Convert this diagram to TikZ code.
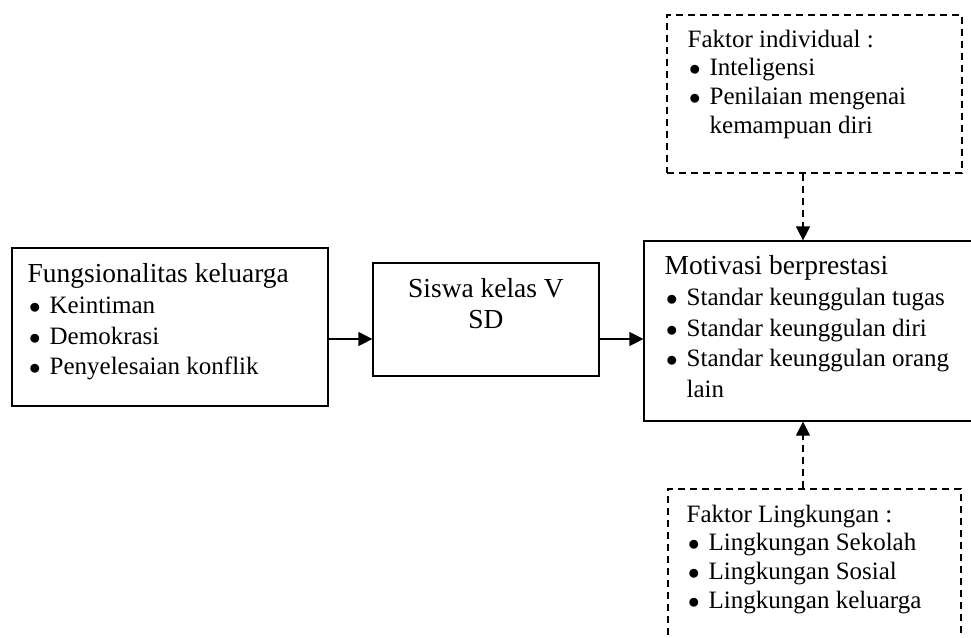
\documentclass[tikz,border=0pt]{standalone}
\usepackage{fontspec}
\setmainfont{Liberation Serif}
\usepackage{tikz}
\usetikzlibrary{arrows.meta}
\newcommand{\bul}{\makebox[16.5pt][l]{\hspace{1pt}$\bullet$}}
\newcommand{\ttl}[1]{{\fontsize{20.6pt}{23pt}\selectfont #1}}

\begin{document}
\begin{tikzpicture}[x=0.75pt,y=-0.75pt,
    box/.style={draw,line width=0.9pt,inner sep=0pt},
    dbox/.style={box,dash pattern=on 5.5pt off 3.5pt},
    txt/.style={inner sep=0pt,align=left,font=\fontsize{18.75pt}{23pt}\selectfont},
    dtxt/.style={txt,font=\fontsize{18.75pt}{21.5pt}\selectfont},
    arr/.style={line width=0.9pt,-{Triangle[length=10.5pt,width=10.5pt]}},
    darr/.style={arr,dash pattern=on 5.5pt off 3.5pt}]
            \useasboundingbox (0,0) rectangle (971,638);
            \clip (0,0) rectangle (971,638);
            \node (fam) at (170,327) [box, minimum width=237pt, minimum height=118.5pt] {};
            \node (siswa) at (486,319.5) [box, minimum width=169.5pt, minimum height=84.75pt] {};
            \node (motiv) at (822,331) [box, minimum width=267pt, minimum height=135pt] {};
            \node (indiv) at (814.5,94) [dbox, minimum width=221.25pt, minimum height=118.5pt] {};
            \node (ling) at (814.5,594.5) [dbox, minimum width=219.75pt, minimum height=158.25pt] {};
            \node (famtxt) at ([shift={(16,16)}]fam.north west) [txt, anchor=north west]
                {\ttl{Fungsionalitas keluarga}\\ \bul Keintiman\\ \bul Demokrasi\\ \bul Penyelesaian konflik};
            \node (siswatxt) at ([shift={(0,16)}]siswa.north) [txt, align=center, anchor=north]
                {\ttl{Siswa kelas V}\\ \ttl{SD}};
            \node (motivtxt) at ([shift={(21,15)}]motiv.north west) [txt, anchor=north west]
                {\ttl{Motivasi berprestasi}\\ \bul Standar keunggulan tugas\\ \bul Standar keunggulan diri\\
                 \bul Standar keunggulan orang\\ \hspace*{16.5pt}lain};
            \node (indivtxt) at ([shift={(21,15)}]indiv.north west) [dtxt, anchor=north west]
                {Faktor individual :\\ \bul Inteligensi\\ \bul Penilaian mengenai\\ \hspace*{16.5pt}kemampuan diri};
            \node (lingtxt) at ([shift={(19,16)}]ling.north west) [dtxt, anchor=north west]
                {Faktor Lingkungan :\\ \bul Lingkungan Sekolah\\ \bul Lingkungan Sosial\\ \bul Lingkungan keluarga};
            \coordinate (arry) at (0,339);
            \coordinate (arrx) at (803,0);
            \draw[arr] (fam.east |- arry) -- (siswa.west |- arry);
            \draw[arr] (siswa.east |- arry) -- (motiv.west |- arry);
            \draw[darr] (indiv.south -| arrx) -- (motiv.north -| arrx);
            \draw[darr] (ling.north -| arrx) -- (motiv.south -| arrx);
        \end{tikzpicture}
\end{document}
